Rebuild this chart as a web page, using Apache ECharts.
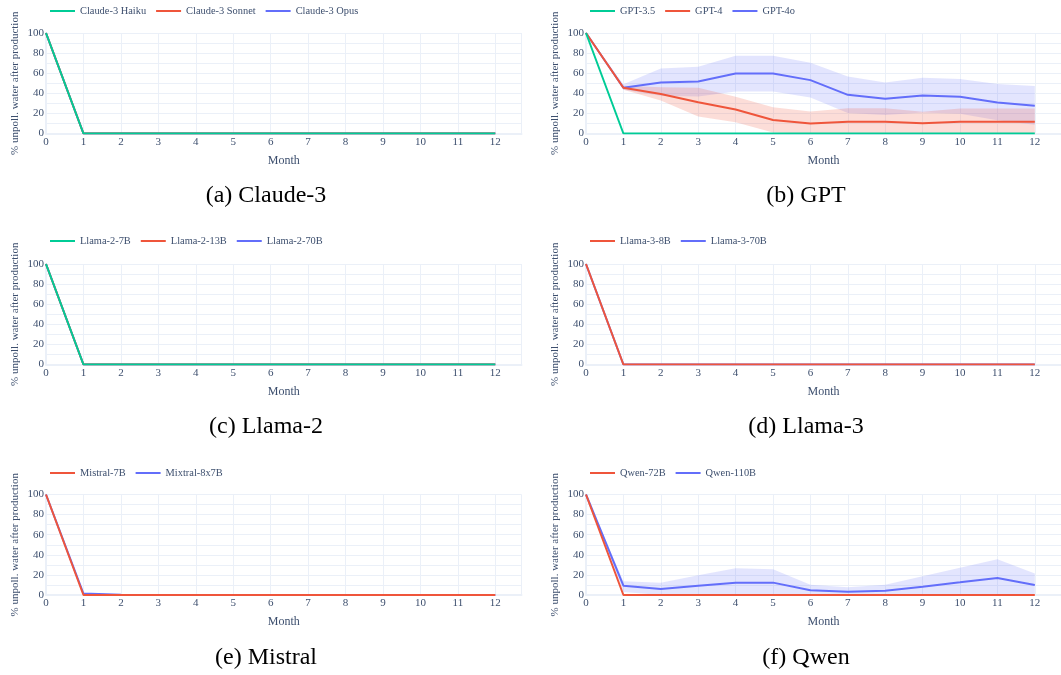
<!DOCTYPE html>
<html>
<head>
<meta charset="utf-8">
<script src="https://cdn.jsdelivr.net/npm/echarts@6/dist/echarts.min.js"></script>
<style>
html,body{margin:0;padding:0;background:#fff;}
#chart{width:1061px;height:675px;}
</style>
</head>
<body>
<div id="chart"></div>
<script>
// ---- data ----
const months = [0,1,2,3,4,5,6,7,8,9,10,11,12];
const yTicks = [0,20,40,60,80,100];

const claudeHaiku  = [100,0,0,0,0,0,0,0,0,0,0,0,0];
const claudeSonnet = [100,0,0,0,0,0,0,0,0,0,0,0,0];
const claudeOpus   = [100,0,0,0,0,0,0,0,0,0,0,0,0];

const gpt35      = [100,0,0,0,0,0,0,0,0,0,0,0,0];
const gpt4       = [100,45.5,39.4,31,23.8,13.5,10,11.6,11.6,10.2,11.6,11.6,11.6];
const gpt4Upper  = [100,47.5,46,45.5,36.5,26,21.8,25.2,25.2,21.6,25,25,25];
const gpt4Lower  = [100,43.5,32.8,17,11.2,1,0,0,0,0,0,0,0];
const gpt4o      = [100,45.5,50.8,51.8,59.8,59.8,53.1,38.5,34.6,37.9,36.5,30.9,27.6];
const gpt4oUpper = [100,49,64.8,66.4,77.4,77.4,70.5,56.8,50.8,55.5,54.2,49.2,47.2];
const gpt4oLower = [100,43.5,37.5,36.8,41.9,41.9,35.9,20.3,18.3,21,19.6,13.3,8.6];

const llama2_7b  = [100,0,0,0,0,0,0,0,0,0,0,0,0];
const llama2_13b = [100,0,0,0,0,0,0,0,0,0,0,0,0];
const llama2_70b = [100,0,0,0,0,0,0,0,0,0,0,0,0];

const llama3_8b  = [100,0,0,0,0,0,0,0,0,0,0,0,0];
const llama3_70b = [100,0,0,0,0,0,0,0,0,0,0,0,0];

const mistral7b  = [100,0,0,0,0,0,0,0,0,0,0,0,0];
const mixtral8x7b= [100,1.5,0.3,0,0,0,0,0,0,0,0,0,0];

const qwen72b     = [100,0,0,0,0,0,0,0,0,0,0,0,0];
const qwen110b    = [100,9.3,6,9.3,12.3,12.3,4.8,3.3,4.3,8.3,12.6,17,10];
const qwen110Upper= [100,13.6,12.3,19.6,26.6,25.6,10.3,7.6,10.3,18.6,27,35.5,21.3];
const qwen110Lower= [100,3,0,0,0,0,0,0,0,0,0,0,0];

const captions = ['(a) Claude-3','(b) GPT','(c) Llama-2','(d) Llama-3','(e) Mistral','(f) Qwen'];

// ---- styling ----
const GREEN = '#00cc96', RED = '#EF553B', BLUE = '#636efa';
const RED_BAND = 'rgba(239,85,59,0.2)', BLUE_BAND = 'rgba(99,110,250,0.18)';
const TXT = '#3d4f6e';
const GRIDC = '#EBF0F8';
const SERIF = '"Liberation Serif","Times New Roman",serif';

const panels = [
  {lines:[['Claude-3 Haiku',claudeHaiku,GREEN],['Claude-3 Sonnet',claudeSonnet,RED],['Claude-3 Opus',claudeOpus,BLUE]], bands:[]},
  {lines:[['GPT-3.5',gpt35,GREEN],['GPT-4',gpt4,RED],['GPT-4o',gpt4o,BLUE]], bands:[[gpt4oLower,gpt4oUpper,BLUE_BAND],[gpt4Lower,gpt4Upper,RED_BAND]]},
  {lines:[['Llama-2-7B',llama2_7b,GREEN],['Llama-2-13B',llama2_13b,RED],['Llama-2-70B',llama2_70b,BLUE]], bands:[]},
  {lines:[['Llama-3-8B',llama3_8b,RED],['Llama-3-70B',llama3_70b,BLUE]], bands:[]},
  {lines:[['Mistral-7B',mistral7b,RED],['Mixtral-8x7B',mixtral8x7b,BLUE]], bands:[]},
  {lines:[['Qwen-72B',qwen72b,RED],['Qwen-110B',qwen110b,BLUE]], bands:[[qwen110Lower,qwen110Upper,BLUE_BAND]]}
];

const colLeft = [46, 586];
const capCenter = [266, 806];
const rowTop = [33, 264, 494.5];
const legendCenter = [10, 240, 472];
const capMid = [196.5, 427.5, 658];
const XMAX = 12.7;
const gridW = 475.5, gridH = 100.5;

const option = {
  animation:false,
  backgroundColor:'#fff',
  grid:[], xAxis:[], yAxis:[], series:[], legend:[], title:[]
};

panels.forEach((p, i) => {
  const col = i % 2, row = Math.floor(i / 2);
  option.grid.push({left:colLeft[col], top:rowTop[row], width:gridW, height:gridH, containLabel:false});
  option.xAxis.push({
    type:'value', gridIndex:i, min:0, max:XMAX, interval:1,
    name:'Month', nameLocation:'middle', nameGap:21,
    nameTextStyle:{fontFamily:SERIF, fontSize:12, color:TXT},
    axisLine:{show:true, lineStyle:{color:GRIDC, width:2}},
    axisTick:{show:false},
    axisLabel:{fontFamily:SERIF, fontSize:11, color:TXT, margin:3, showMaxLabel:false,
      formatter:v => Number.isInteger(v) ? String(v) : ''},
    splitLine:{show:true, lineStyle:{color:GRIDC, width:1}}
  });
  option.yAxis.push({
    type:'value', gridIndex:i, min:0, max:100, interval:20,
    name:'% unpoll. water after production', nameLocation:'middle', nameGap:25,
    nameTextStyle:{fontFamily:SERIF, fontSize:11, color:TXT},
    axisLine:{show:true, lineStyle:{color:GRIDC, width:2}},
    axisTick:{show:false},
    axisLabel:{fontFamily:SERIF, fontSize:11, color:TXT, margin:2,
      formatter:v => yTicks.includes(v) ? String(v) : ''},
    splitLine:{show:true, lineStyle:{color:GRIDC, width:1}},
    minorTick:{show:false, splitNumber:2},
    minorSplitLine:{show:true, lineStyle:{color:GRIDC, width:1}}
  });
  p.bands.forEach(([lower, upper, fill]) => {
    option.series.push({
      type:'custom', coordinateSystem:'cartesian2d', xAxisIndex:i, yAxisIndex:i,
      silent:true, z:1,
      data: months.map((m, k) => [m, lower[k], upper[k]]),
      encode:{x:0, y:[1,2]},
      renderItem:(params, api) => {
        if (params.dataIndex !== 0) return null;
        const pts = [];
        for (let k = 0; k < months.length; k++) pts.push(api.coord([months[k], upper[k]]));
        for (let k = months.length - 1; k >= 0; k--) pts.push(api.coord([months[k], lower[k]]));
        return {type:'polygon', shape:{points:pts}, style:{fill:fill, stroke:null}};
      }
    });
  });
  const n = p.lines.length;
  p.lines.forEach(([name, vals, color], k) => {
    option.series.push({
      type:'line', name:name, xAxisIndex:i, yAxisIndex:i,
      data: months.map((m, j) => [m, vals[j]]),
      symbol:'none', showSymbol:false, z:2 + (n - k),
      color:color,
      lineStyle:{color:color, width:2}
    });
  });
  option.legend.push({
    data:p.lines.map(l => ({name:l[0], icon:'rect'})),
    left:colLeft[col] + 4, top:legendCenter[row] - 4,
    padding:0, itemWidth:25, itemHeight:2, itemGap:10,
    textStyle:{fontFamily:SERIF, fontSize:10.4, color:TXT},
    selectedMode:false
  });
  option.title.push({
    text:captions[i], left:capCenter[col], top:capMid[row] - 12.5, textAlign:'center',
    padding:0,
    textStyle:{fontFamily:SERIF, fontSize:24, fontWeight:'normal', color:'#000'}
  });
});

const chart = echarts.init(document.getElementById('chart'), null, {renderer:'canvas'});
chart.setOption(option);
</script>
</body>
</html>
